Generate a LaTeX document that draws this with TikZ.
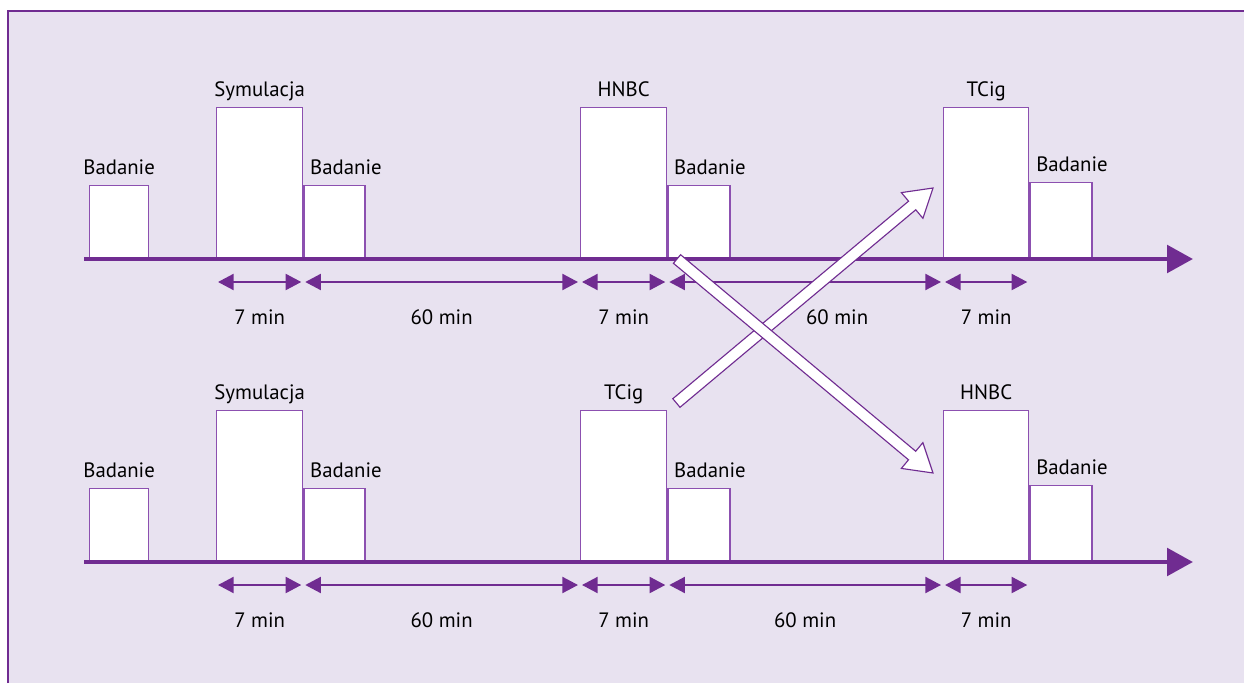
\documentclass[tikz,border=0pt]{standalone}
\usepackage{fontspec}
\setmainfont{PT Sans}
\usetikzlibrary{arrows.meta, calc}
\definecolor{axispurple}{RGB}{112,44,145}
\definecolor{boxpurple}{RGB}{140,80,176}
\definecolor{panelbg}{RGB}{232,226,240}

% wide white arrow with a thin outline, from #1 to #2
\newcommand{\hollowarrow}[2]{%
  \path let \p1 = ($(#2)-(#1)$) in
    \pgfextra{\pgfmathsetmacro\harrang{atan2(\y1,\x1)}%
              \pgfmathsetmacro\harrlen{veclen(\x1,\y1)/28.45274}%
              \xdef\harrang{\harrang}\xdef\harrlen{\harrlen}};
  \begin{scope}[shift={(#1)}, rotate=\harrang]
    \draw[hollow] (0,-0.14) -- ({\harrlen-0.68},-0.14) -- ({\harrlen-0.68},-0.42)
      -- (\harrlen,0) -- ({\harrlen-0.68},0.42) -- ({\harrlen-0.68},0.14)
      -- (0,0.14) -- cycle;
  \end{scope}}

\begin{document}
\begin{tikzpicture}[
  font=\fontsize{14.8}{17}\selectfont,
  box/.style={draw=boxpurple, fill=white, line width=0.9pt, inner sep=0pt,
    anchor=south west},
  small/.style={minimum height=1.825cm},
  tall/.style={minimum height=3.775cm, minimum width=2.15cm},
  lblc/.style={anchor=base, yshift=0.25cm},
  lblw/.style={anchor=base west, yshift=0.25cm, xshift=0.05cm},
  axis/.style={-{Triangle[length=0.65cm, width=0.68cm]}, line width=3.5pt, axispurple},
  dim/.style={{Triangle[length=0.39cm, width=0.4cm]}-{Triangle[length=0.39cm, width=0.4cm]},
    line width=1.4pt, axispurple, shorten <=0.05cm, shorten >=0.05cm},
  tim/.style={midway, yshift=-0.875cm, text=black},
  hollow/.style={draw=axispurple, fill=white, line width=0.8pt, line join=miter}
]
  \useasboundingbox (0,0) rectangle (31.1,17.075);
  \fill[panelbg] (0.2,0) rectangle (31.1,16.8);
  \draw[axispurple, line width=1.4pt] (0.2,0) -- (0.2,16.8) -- (31.1,16.8);

  % two sessions, the products swapped in the second one
  \foreach \r/\ay/\midtxt/\lasttxt/\shift in {1/10.6/HNBC/TCig/0.8, 2/3.025/TCig/HNBC/0} {
    \node[box, small, minimum width=1.475cm, label={[lblc]north:Badanie}] (bad1\r) at (2.225,\ay) {};
    \node[box, tall, label={[lblc]north:Symulacja}] (sym\r) at (5.4,\ay) {};
    \node[box, small, minimum width=1.525cm, label={[lblw]north west:Badanie}] (bad2\r) at (sym\r.south east) {};
    \node[box, tall, label={[lblc]north:\midtxt}] (mid\r) at (14.5,\ay) {};
    \node[box, small, minimum width=1.55cm, label={[lblw]north west:Badanie}] (bad3\r) at (mid\r.south east) {};
    \node[box, tall, minimum width=2.125cm, label={[lblc]north:\lasttxt}] (last\r) at (23.575,\ay) {};
    \node[box, minimum height=1.9cm, minimum width=1.55cm, label={[lblw]north west:Badanie}] (bad4\r) at (last\r.south east) {};

    \draw[axis] (2.1,\ay) -- (29.825,\ay);

    \draw[dim] ([yshift=-0.575cm]sym\r.south west) -- ([yshift=-0.575cm]sym\r.south east) node[tim] {7 min};
    \draw[dim] ([yshift=-0.575cm]sym\r.south east) -- ([yshift=-0.575cm]mid\r.south west) node[tim] {60 min};
    \draw[dim] ([yshift=-0.575cm]mid\r.south west) -- ([yshift=-0.575cm]mid\r.south east) node[tim] {7 min};
    \draw[dim] ([yshift=-0.575cm]mid\r.south east) -- ([yshift=-0.575cm]last\r.south west) node[tim, xshift=\shift cm] {60 min};
    \draw[dim] ([yshift=-0.575cm]last\r.south west) -- ([yshift=-0.575cm]last\r.south east) node[tim] {7 min};
  }

  % crossing arrows
  \coordinate (upTail) at (16.91,7.0);
  \coordinate (upTip) at (23.325,12.375);
  \coordinate (downTail) at (16.925,10.6);
  \coordinate (downTip) at (23.325,5.25);
  \hollowarrow{upTail}{upTip}
  \hollowarrow{downTail}{downTip}
\end{tikzpicture}
\end{document}
